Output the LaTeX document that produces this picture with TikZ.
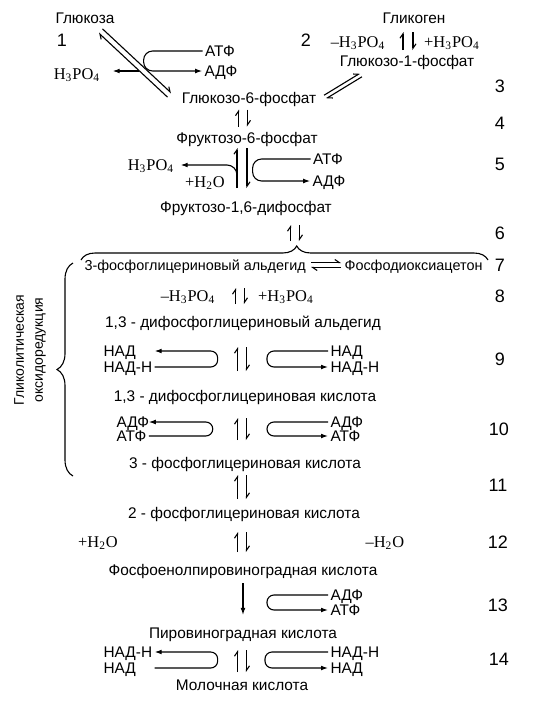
\documentclass[tikz,border=0pt]{standalone}
\usepackage{fontspec}
\setmainfont{Liberation Sans}
\newfontfamily\chemfont{Liberation Serif}
\usetikzlibrary{arrows.meta, decorations.pathreplacing}

\newcommand\phos{H\textsubscript{3}PO\textsubscript{4}}
\newcommand\wat{H\textsubscript{2}O}

\begin{document}
\begin{tikzpicture}[
        x=0.5pt, y=-0.5pt,
        line width=0.55pt,
        txt/.style={font=\fontsize{7.7}{9}\selectfont, inner sep=1pt, text height=5.5pt, text depth=0pt},
        chem/.style={font=\chemfont\fontsize{8.2}{9}\selectfont, inner sep=1pt, text height=5.4pt, text depth=0pt},
        num/.style={font=\fontsize{9}{10}\selectfont, inner sep=0pt, text height=6.4pt, text depth=0pt},
        fwd/.style={-{Latex[length=3.5pt,width=2.4pt]}},
        cyc/.style={fwd, rounded corners=3.5pt},
        harp/.style={-{Straight Barb[left,length=2.2pt,width=3pt]}},
        brace/.style={decorate, decoration={brace, amplitude=7pt}},
        pics/eqv/.style 2 args={code={
            \draw[harp] (-#2,#1) -- (-#2,-#1);
            \draw[harp] (#2,-#1) -- (#2,#1);}}
    ]
        \useasboundingbox (0,0) rectangle (550,724);

        % Hexoses
        \node[txt] (glu) at (85,18) {Глюкоза};
        \node[num] (n1) at (62,40) {1};
        \node[txt] (glg) at (414,18) {Гликоген};
        \node[num] (n2) at (306,40) {2};
        \node[chem] (mp2) at (358,42) {–\phos};
        \node[chem] (pp2) at (452,42) {+\phos};
        \node[txt] (g1p) at (407,61) {Глюкозо-1-фосфат};
        \node[txt] (atp1) at (220,51) {АТФ};
        \node[txt] (adp1) at (221,71) {АДФ};
        \node[chem] (pho1) at (77,74) {\phos};
        \node[txt] (g6p) at (249,98) {Глюкозо-6-фосфат};
        \node[num] (n3) at (500,86) {3};
        \node[num] (n4) at (500,123) {4};
        \node[txt] (f6p) at (247,138) {Фруктозо-6-фосфат};
        \node[chem] (pho5) at (151,165) {\phos};
        \node[chem] (wat5) at (205,182) {+\wat};
        \node[txt] (atp5) at (328,159) {АТФ};
        \node[txt] (adp5) at (329,181) {АДФ};
        \node[num] (n5) at (500,164) {5};
        \node[txt] (f16) at (246,207) {Фруктозо-1,6-дифосфат};
        \node[num] (n6) at (500,233) {6};

        % Trioses
        \node[txt, font=\fontsize{7.2}{9}\selectfont, anchor=west] (gap) at (82,265) {3-фосфоглицериновый альдегид};
        \node[txt, font=\fontsize{7.2}{9}\selectfont, anchor=east] (dha) at (485,265) {Фосфодиоксиацетон};
        \node[num] (n7) at (500,265) {7};
        \node[chem] (mp8) at (188,296) {–\phos};
        \node[chem] (pp8) at (286,296) {+\phos};
        \node[num] (n8) at (500,296) {8};
        \node[font=\fontsize{7}{9.5}\selectfont, rotate=90, align=center] (side) at (30,350) {Гликолитическая\\оксидоредукция};
        \node[txt] (bpga) at (243,322) {1,3 - дифосфоглицериновый альдегид};
        \node[txt, anchor=west] (nad9l) at (101,351) {НАД};
        \node[txt, anchor=west] (nadh9l) at (101,367) {НАД-Н};
        \node[txt, anchor=west] (nad9r) at (328,351) {НАД};
        \node[txt, anchor=west] (nadh9r) at (328,367) {НАД-Н};
        \node[num] (n9) at (500,359) {9};
        \node[txt] (bpg) at (245,396) {1,3 - дифосфоглицериновая кислота};
        \node[txt, anchor=west] (adp10l) at (114,422) {АДФ};
        \node[txt, anchor=west] (atp10l) at (114,436) {АТФ};
        \node[txt, anchor=west] (adp10r) at (328,422) {АДФ};
        \node[txt, anchor=west] (atp10r) at (328,436) {АТФ};
        \node[num] (n10) at (499,429) {10};
        \node[txt] (pg3) at (245,463) {3 - фосфоглицериновая кислота};
        \node[num] (n11) at (498,485) {11};
        \node[txt] (pg2) at (244,513) {2 - фосфоглицериновая кислота};
        \node[chem] (wat12l) at (98,542) {+\wat};
        \node[chem] (wat12r) at (385,542) {–\wat};
        \node[num] (n12) at (498,542) {12};
        \node[txt] (pep) at (243,570) {Фосфоенолпировиноградная кислота};
        \node[txt, anchor=west] (adp13) at (328,595) {АДФ};
        \node[txt, anchor=west] (atp13) at (328,610) {АТФ};
        \node[num] (n13) at (498,605) {13};
        \node[txt] (pyr) at (243,633) {Пировиноградная кислота};
        \node[txt, anchor=west] (nadh14l) at (101,652) {НАД-Н};
        \node[txt, anchor=west] (nad14l) at (101,668) {НАД};
        \node[txt, anchor=west] (nadh14r) at (328,652) {НАД-Н};
        \node[txt, anchor=west] (nad14r) at (328,668) {НАД};
        \node[num] (n14) at (499,659) {14};
        \node[txt] (lac) at (242,685) {Молочная кислота};

        % Equilibria
        \pic[rotate=47] at (135,63) {eqv={47}{2.8}};
        \pic at (408,41) {eqv={9}{5}};
        \pic[rotate=-58.6] at (343,86) {eqv={21}{2}};
        \pic at (243,118) {eqv={8.5}{4.5}};
        \pic at (242,168) {eqv={20}{5}};
        \pic at (295,233) {eqv={8}{4.5}};
        \pic[rotate=-90] at (326,265) {eqv={15}{2.5}};
        \pic at (240,296) {eqv={8}{4.5}};
        \pic at (242,359) {eqv={12}{4.5}};
        \pic at (242,429) {eqv={11}{4.5}};
        \pic at (242,487) {eqv={12}{4.5}};
        \pic at (242,542) {eqv={10}{4.5}};
        \pic at (242,661) {eqv={11}{4.5}};
        \draw[fwd, shorten <=2.5pt, shorten >=5pt] (pep.south) -- (pep.south |- pyr.north);

        % Side reactions
        \coordinate (s1) at (139,71);
        \coordinate (s5) at (237,182);
        \draw[fwd, shorten >=5pt] (s1) -- (s1 -| pho1.east);
        \draw[cyc, rounded corners=4.5pt] (atp1.west) -- ++(-59,0) |- (adp1.west);
        \draw[cyc, rounded corners=5pt, shorten >=2pt] (s5) |- (pho5.east);
        \draw[cyc, rounded corners=4.5pt] (atp5.west) -- ++(-58,0) |- (adp5.west);
        \draw[cyc] (nadh9l.east) -- ++(63,0) |- (nadh9l.east |- nad9l.east);
        \draw[cyc] (nad9r.west) -- ++(-61,0) |- (nadh9r.west);
        \draw[cyc] (atp10l.east) -- ++(64,0) |- (atp10l.east |- adp10l.east);
        \draw[cyc] (adp10r.west) -- ++(-61,0) |- (atp10r.west);
        \draw[cyc] (adp13.west) -- ++(-61,0) |- (atp13.west);
        \draw[cyc] (nadh14l.east |- nad14l.east) -- ++(63,0) |- (nadh14l.east);
        \draw[cyc] (nadh14r.west) -- ++(-63,0) |- (nad14r.west);

        % Braces
        \draw[brace, decoration={aspect=0.53}] (81,260) -- (488,260);
        \draw[brace, decoration={amplitude=8pt}] (73,476) -- (73,263);
    \end{tikzpicture}
\end{document}
